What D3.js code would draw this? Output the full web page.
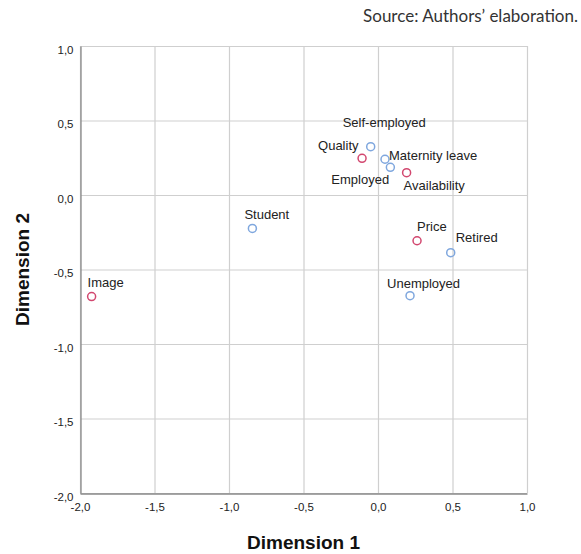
<!DOCTYPE html>
<html><head><meta charset="utf-8">
<script src="https://cdn.jsdelivr.net/npm/d3@7"></script>
<style>
html,body{margin:0;padding:0;background:#fff;}
svg{display:block;}
</style></head>
<body>
<svg id="chart" width="581" height="554"></svg>
<script>
// ---- data ----
const categoryNames = ["Quality","Availability","Price","Image"];
const categoryDim1  = [-0.107, 0.192, 0.262, -1.922];
const categoryDim2  = [0.246, 0.150, -0.307, -0.682];

const statusNames = ["Self-employed","Maternity leave","Employed","Retired","Unemployed","Student"];
const statusDim1  = [-0.049, 0.047, 0.083, 0.488, 0.215, -0.843];
const statusDim2  = [0.324, 0.240, 0.186, -0.387, -0.676, -0.224];

const tickValues = [-2.0,-1.5,-1.0,-0.5,0.0,0.5,1.0];
const axisTitleX = "Dimension 1";
const axisTitleY = "Dimension 2";
const sourceText = "Source: Authors\u2019 elaboration.";

// ---- layout (label placement, not data) ----
const labelOffsets = {
  "Self-employed":[-28,-20], "Quality":[-44,-8], "Maternity leave":[4,1],
  "Employed":[-59,17], "Availability":[-3,17], "Price":[0,-10],
  "Retired":[5,-11], "Unemployed":[-23,-8], "Student":[-8,-9], "Image":[-4,-10]
};

const SANS = "'Liberation Sans', Arial, Helvetica, sans-serif";
const svg = d3.select("#chart");
const L=80, R=527, T=46, B=493;
const x = d3.scaleLinear().domain([-2,1]).range([L,R]);
const y = d3.scaleLinear().domain([-2,1]).range([B,T]);
const loc = d3.formatLocale({decimal:",",thousands:".",grouping:[3],currency:["",""],minus:"-"});
const fmt = loc.format(".1f");

// grid
const grid = svg.append("g");
grid.selectAll("line.gx").data(tickValues).join("line")
  .attr("x1",d=>x(d)+0.5).attr("x2",d=>x(d)+0.5).attr("y1",T).attr("y2",B)
  .attr("stroke","#cfcfcf").attr("stroke-width",1.2);
grid.selectAll("line.gy").data(tickValues).join("line")
  .attr("y1",d=>y(d)+0.5).attr("y2",d=>y(d)+0.5).attr("x1",L).attr("x2",R)
  .attr("stroke","#cfcfcf").attr("stroke-width",1.2);

// axes
const xAxis = d3.axisBottom(x).tickValues(tickValues).tickFormat(fmt).tickSize(0).tickPadding(9);
const yAxis = d3.axisLeft(y).tickValues(tickValues).tickFormat(fmt).tickSize(0).tickPadding(7);
const gx = svg.append("g").attr("transform",`translate(0,${B+0.5})`).call(xAxis);
const gy = svg.append("g").attr("transform",`translate(${L+0.5},0)`).call(yAxis);
[gx,gy].forEach(g=>{
  g.attr("font-family",SANS);
  g.select(".domain").attr("stroke","#8a8a8a").attr("stroke-width",1.3);
  g.selectAll("text").style("font-family",SANS)
    .attr("font-size",11.5).attr("fill","#222");
});
gy.selectAll("text").attr("dy","0.62em");

// axis titles
svg.append("text").attr("x",(L+R)/2).attr("y",549).attr("text-anchor","middle")
  .style("font-family",SANS).attr("font-weight","bold")
  .attr("font-size",19).attr("fill","#111").text(axisTitleX);
svg.append("text").attr("transform",`translate(29,${(T+B)/2}) rotate(-90)`).attr("text-anchor","middle")
  .style("font-family",SANS).attr("font-weight","bold")
  .attr("font-size",19).attr("fill","#111").text(axisTitleY);

// source
svg.append("text").attr("x",578).attr("y",22).attr("text-anchor","end")
  .style("font-family","Lato, 'Open Sans', sans-serif").attr("font-size",17).attr("fill","#333")
  .text(sourceText);

// points
const cats = categoryNames.map((n,i)=>({name:n,d1:categoryDim1[i],d2:categoryDim2[i],color:"#d2476f"}));
const stats = statusNames.map((n,i)=>({name:n,d1:statusDim1[i],d2:statusDim2[i],color:"#7fa7de"}));
const all = stats.concat(cats);

const pts = svg.append("g");
pts.selectAll("circle").data(all).join("circle")
  .attr("cx",d=>x(d.d1)).attr("cy",d=>y(d.d2)).attr("r",4)
  .attr("fill","none").attr("stroke",d=>d.color).attr("stroke-width",1.5);
pts.selectAll("text").data(all).join("text")
  .attr("x",d=>x(d.d1)+labelOffsets[d.name][0]).attr("y",d=>y(d.d2)+labelOffsets[d.name][1])
  .style("font-family",SANS).attr("font-size",13).attr("fill","#222")
  .text(d=>d.name);
</script>
</body></html>
